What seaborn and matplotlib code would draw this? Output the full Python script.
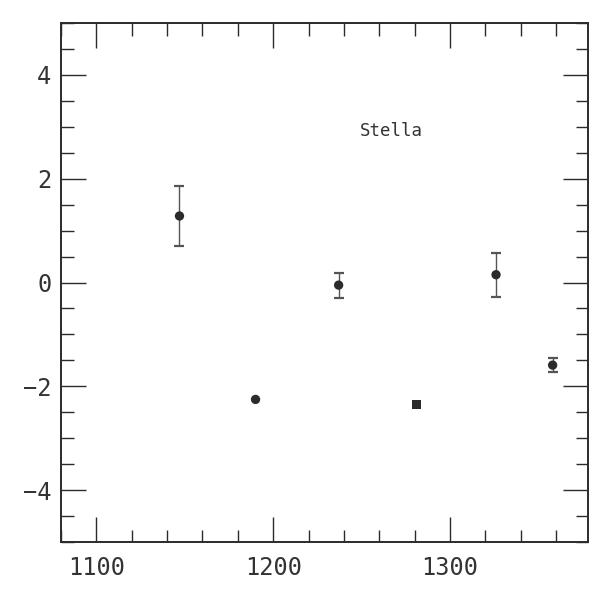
import matplotlib
matplotlib.use("Agg")
import matplotlib.pyplot as plt
import seaborn as sns
import pandas as pd
from matplotlib.ticker import MultipleLocator

# data
x_vals = [1147, 1190, 1237, 1281, 1326, 1358]
y_vals = [1.28, -2.25, -0.05, -2.35, 0.15, -1.59]
y_err = [0.58, 0.0, 0.24, 0.0, 0.42, 0.14]
shapes = ["o", "o", "o", "s", "o", "o"]
label_text = "Stella"
x_ticks = [1100, 1200, 1300]
y_ticks = [-4, -2, 0, 2, 4]

df = pd.DataFrame({"x": x_vals, "y": y_vals, "err": y_err, "shape": shapes})

sns.set_theme(style="white")
plt.rcParams["font.family"] = ["DejaVu Sans Mono", "DejaVu Sans"]

ink = "#2b2b2b"
fig = plt.figure(figsize=(6.04, 5.96), dpi=100)
ax = fig.add_axes([0.101, 0.0901, 0.8725, 0.8718])

eb = df[df["err"] > 0]
ax.errorbar(eb["x"], eb["y"], yerr=eb["err"], fmt="none", ecolor="#555555",
            elinewidth=1.0, capsize=3.5, capthick=1.6, zorder=2)
sns.scatterplot(data=df, x="x", y="y", style="shape", markers={"o": "o", "s": "s"},
                color=ink, s=45, edgecolor=ink, linewidth=0, legend=False, ax=ax, zorder=3)

ax.set_xlim(1080, 1378)
ax.set_ylim(-5, 5)
ax.set_xticks(x_ticks)
ax.set_yticks(y_ticks)
ax.xaxis.set_minor_locator(MultipleLocator(20))
ax.yaxis.set_minor_locator(MultipleLocator(0.5))
ax.set_xticklabels([str(t) for t in x_ticks])
ax.set_yticklabels([f"{t:d}".replace("-", "\u2212") for t in y_ticks])
ax.tick_params(which="major", direction="in", length=18, width=1.0, color=ink,
               top=True, right=True, bottom=True, left=True,
               labelsize=17, labelcolor="#333333")
ax.tick_params(axis="x", which="major", pad=10)
ax.tick_params(axis="y", which="major", pad=7)
ax.tick_params(which="minor", direction="in", length=9, width=1.0, color=ink,
               top=True, right=True, bottom=True, left=True)
ax.set_xlabel("")
ax.set_ylabel("")
for sp in ax.spines.values():
    sp.set_color(ink)
    sp.set_linewidth(1.4)

ax.text(1267, 2.92, label_text, ha="center", va="center", fontsize=12.5,
        color="#333333", family=["DejaVu Sans Mono"])

fig.savefig("out.png", dpi=100)
